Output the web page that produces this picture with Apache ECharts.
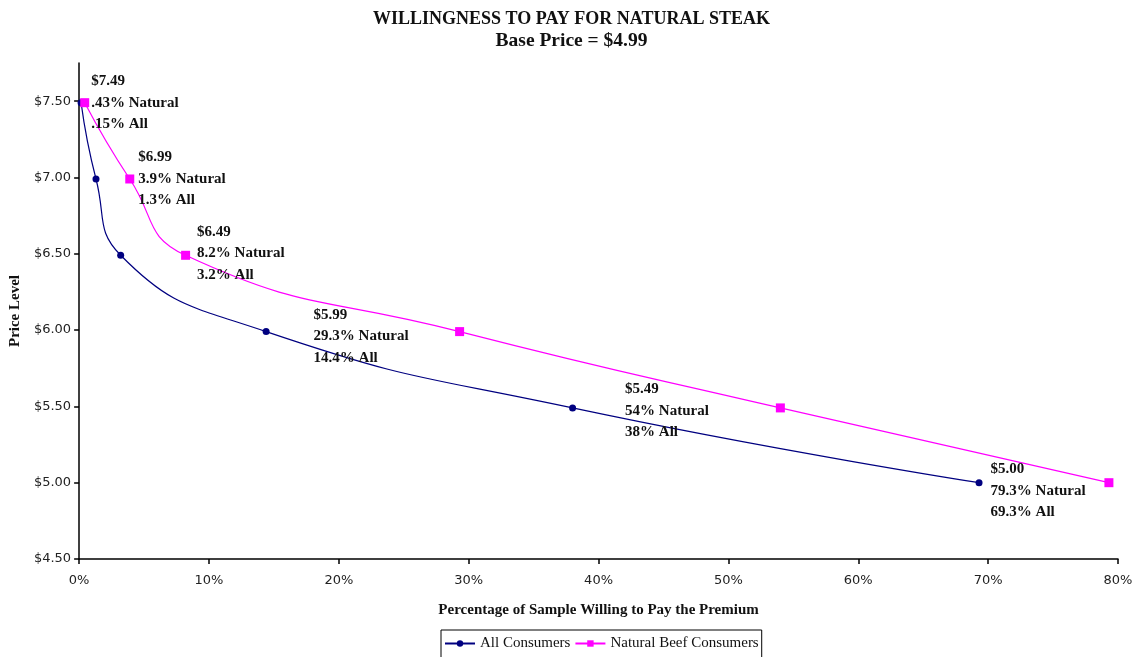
<!DOCTYPE html>
<html>
<head>
<meta charset="utf-8">
<script src="https://cdn.jsdelivr.net/npm/echarts@6/dist/echarts.min.js"></script>
<style>
  html, body { margin: 0; padding: 0; background: #fff; }
  #chart { width: 1143px; height: 657px; }
</style>
</head>
<body>
<div id="chart"></div>
<script>
// Price levels tested and share of each sample willing to pay them
const priceLevels = [7.49, 6.99, 6.49, 5.99, 5.49, 5.00];
const priceText = ['$7.49', '$6.99', '$6.49', '$5.99', '$5.49', '$5.00'];
const naturalPct = [0.43, 3.9, 8.2, 29.3, 54, 79.3];
const naturalText = ['.43%', '3.9%', '8.2%', '29.3%', '54%', '79.3%'];
const allPct = [0.15, 1.3, 3.2, 14.4, 38, 69.3];
const allText = ['.15%', '1.3%', '3.2%', '14.4%', '38%', '69.3%'];
const yTicks = [4.5, 5.0, 5.5, 6.0, 6.5, 7.0, 7.5];

const serif = '"Liberation Serif", "Times New Roman", serif';
const sans = '"DejaVu Sans", Tahoma, sans-serif';

// Annotation for each price level: which series carries it and where it sits
const labelHost = ['natural', 'natural', 'natural', 'all', 'all', 'all'];
const labelOffset = [[-4, 0], [-2, 0], [1, -2], [38, 5], [43, 3], [2, 8]];

function labelFor(i) {
  return {
    show: true,
    position: 'right',
    distance: 6,
    offset: labelOffset[i],
    formatter: priceText[i] + '\n' + naturalText[i] + ' Natural\n' + allText[i] + ' All',
    fontFamily: serif,
    fontWeight: 'bold',
    fontSize: 15,
    lineHeight: 21.5,
    color: '#111',
    align: 'left'
  };
}

function buildData(xs, key) {
  return xs.map((x, i) => {
    const item = { value: [x, priceLevels[i]] };
    if (labelHost[i] === key) item.label = labelFor(i);
    return item;
  });
}

const chart = echarts.init(document.getElementById('chart'), null, { renderer: 'canvas' });

chart.setOption({
  backgroundColor: '#fff',
  animation: false,
  title: {
    text: 'WILLINGNESS TO PAY FOR NATURAL STEAK',
    subtext: 'Base Price = $4.99',
    left: 'center',
    top: 5,
    itemGap: 3,
    textStyle: { fontFamily: serif, fontWeight: 'bold', fontSize: 18, color: '#111' },
    subtextStyle: { fontFamily: serif, fontWeight: 'bold', fontSize: 19.5, color: '#111' }
  },
  grid: { left: 78, right: 25, top: 63, bottom: 98, containLabel: false },
  xAxis: {
    type: 'value',
    min: 0,
    max: 80,
    interval: 10,
    name: 'Percentage of Sample Willing to Pay the Premium',
    nameLocation: 'middle',
    nameGap: 44,
    nameTextStyle: { fontFamily: serif, fontWeight: 'bold', fontSize: 15, color: '#111' },
    splitLine: { show: false },
    axisLine: { lineStyle: { color: '#000', width: 1.5 } },
    axisTick: { show: true, inside: false, length: 5, lineStyle: { color: '#000', width: 1.5 } },
    axisLabel: {
      margin: 15,
      fontFamily: sans,
      fontSize: 13,
      color: '#222',
      formatter: v => v + '%'
    }
  },
  yAxis: {
    type: 'value',
    min: 4.5,
    max: 7.75,
    interval: 0.5,
    name: 'Price Level',
    nameLocation: 'middle',
    nameGap: 53,
    nameRotate: 90,
    nameTextStyle: { fontFamily: serif, fontWeight: 'bold', fontSize: 15, color: '#111' },
    splitLine: { show: false },
    axisLine: { show: true, lineStyle: { color: '#000', width: 1.5 } },
    axisTick: { show: true, inside: false, length: 5, customValues: yTicks, lineStyle: { color: '#000', width: 1.5 } },
    axisLabel: {
      margin: 8,
      fontFamily: sans,
      fontSize: 13,
      color: '#222',
      customValues: yTicks,
      formatter: v => '$' + v.toFixed(2)
    }
  },
  legend: {
    bottom: -2,
    left: 441,
    itemWidth: 30,
    itemHeight: 8,
    itemGap: 4,
    padding: [6, 3, 8, 3],
    borderColor: '#000',
    borderWidth: 1,
    textStyle: { fontFamily: serif, fontSize: 15, color: '#111' },
    data: ['All Consumers', 'Natural Beef Consumers']
  },
  series: [
    {
      name: 'All Consumers',
      type: 'line',
      smooth: 0.5,
      symbol: 'circle',
      symbolSize: 7,
      color: '#000080',
      lineStyle: { color: '#000080', width: 1.2 },
      itemStyle: { color: '#000080' },
      data: buildData(allPct, 'all')
    },
    {
      name: 'Natural Beef Consumers',
      type: 'line',
      smooth: 0.5,
      symbol: 'rect',
      symbolSize: 9,
      color: '#ff00ff',
      lineStyle: { color: '#ff00ff', width: 1.2 },
      itemStyle: { color: '#ff00ff' },
      data: buildData(naturalPct, 'natural')
    }
  ]
});
</script>
</body>
</html>
